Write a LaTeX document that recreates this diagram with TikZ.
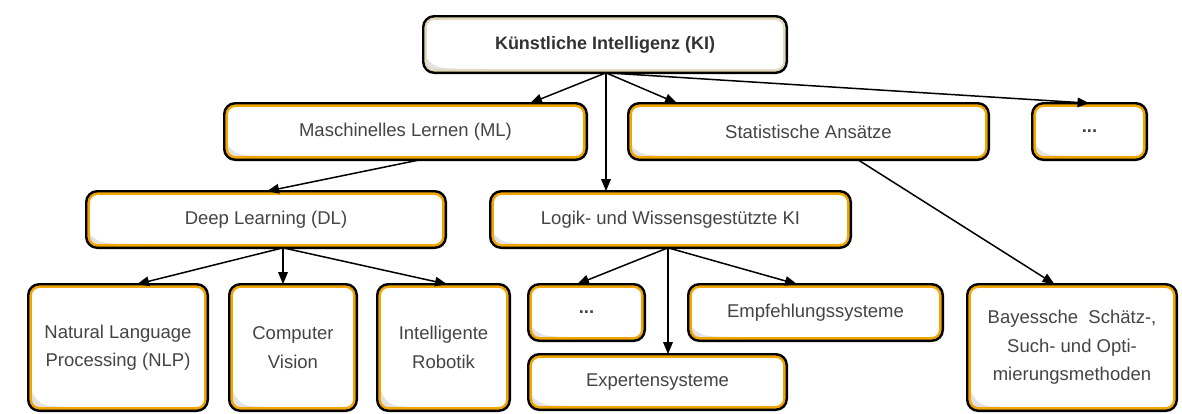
\documentclass[tikz,border=0pt]{standalone}
\usepackage{fontspec}
\setmainfont{Liberation Sans}
\usetikzlibrary{arrows.meta,calc}
\definecolor{ringor}{RGB}{240,165,0}
\definecolor{ringtop}{RGB}{228,216,190}
\definecolor{shgray}{RGB}{226,226,226}
\definecolor{txt}{RGB}{68,68,68}
\definecolor{txtb}{RGB}{51,51,51}
\newcommand\kshade[1]{%
  \fill[shgray] let \p1=(path picture bounding box.south west), \p2=(path picture bounding box.north east) in
    ({\x1-2pt}, {\y1+min(0.55*(\y2-\y1),46pt)}) .. controls ({\x1+4pt},{\y1+10pt}) and ({\x1+12pt},{\y1+5pt}) .. ({\x1+36pt},{\y1+4pt})
    -- (\x2,{\y1+1.5pt}) -- (\x2,{\y1-2pt}) -- ({\x1-2pt},{\y1-2pt}) -- cycle;
  \draw[#1, line width=7.5pt, rounded corners=11pt] (path picture bounding box.south west) rectangle (path picture bounding box.north east);}
\begin{document}
\begin{tikzpicture}[x=1pt,y=-1pt,
  kbox/.style={draw=black, line width=2.4pt, fill=white, rounded corners=11pt,
    inner sep=0pt, outer sep=0pt, anchor=north west, align=center, text=txt,
    font=\fontsize{18.5}{28.5}\selectfont, path picture={\kshade{ringor}}},
  kboxtop/.style={kbox, text=txtb, font=\fontsize{18}{28}\selectfont\bfseries, path picture={\kshade{ringtop}}},
  arr/.style={-{Triangle[length=12pt,width=9.5pt]}, line width=1.5pt, black}]
\useasboundingbox (0,0) rectangle (1182,413);
% nodes
\node[kboxtop, minimum width=363.6pt, minimum height=56.6pt] (ki) at (423.2,16.2) {Künstliche Intelligenz (KI)};
\node[kbox, minimum width=362.6pt, minimum height=56.6pt] (ml) at (224.2,103.2) {Maschinelles Lernen (ML)};
\node[kbox, minimum width=360.6pt, minimum height=56.6pt] (stat) at (628.2,103.2) {Statistische Ansätze};
\node[kbox, minimum width=114.6pt, minimum height=56.6pt] (dotsa) at (1032.2,103.2) {\textbf{...}};
\node[kbox, minimum width=359.6pt, minimum height=56.6pt] (dl) at (86.2,191.2) {Deep Learning (DL)};
\node[kbox, minimum width=360.6pt, minimum height=56.6pt] (logik) at (490.2,191.2) {Logik- und Wissensgestützte KI};
\node[kbox, minimum width=179.6pt, minimum height=126.6pt] (nlp) at (28.2,284.2) {Natural Language\\Processing (NLP)};
\node[kbox, minimum width=127.6pt, minimum height=126.6pt] (cv) at (229.2,284.2) {Computer\\Vision};
\node[kbox, minimum width=132.6pt, minimum height=126.6pt] (rob) at (377.2,284.2) {Intelligente\\Robotik};
\node[kbox, minimum width=116.6pt, minimum height=56.6pt] (dotsb) at (528.2,284.2) {\textbf{...}};
\node[kbox, minimum width=254.6pt, minimum height=56.6pt] (empf) at (688.2,284.2) {Empfehlungssysteme};
\node[kbox, minimum width=258.6pt, minimum height=55.6pt] (expert) at (528.2,354.2) {Expertensysteme};
\node[kbox, minimum width=209.6pt, minimum height=126.6pt] (bayes) at (967.2,284.2) {Bayessche\ \ Schätz-,\\Such- und Opti-\\mierungsmethoden};
% connectors
\draw[arr] ([xshift=1pt]ki.south) -- ([xshift=124.5pt]ml.north);
\draw[arr] ([xshift=1pt]ki.south) -- ([xshift=-131.5pt]stat.north);
\draw[arr] ([xshift=1pt]ki.south) -- ([xshift=-64.5pt]logik.north);
\draw[arr] ([xshift=1pt]ki.south) -- (dotsa.north);
\draw[arr] ([xshift=14.5pt]ml.south) -- ([xshift=1pt]dl.north);
\draw[arr] ([xshift=49.5pt]stat.south) -- ([xshift=-17.5pt]bayes.north);
\draw[arr] ([xshift=17pt]dl.south) -- ([xshift=19pt]nlp.north);
\draw[arr] ([xshift=17pt]dl.south) -- ([xshift=-10pt]cv.north);
\draw[arr] ([xshift=17pt]dl.south) -- ([xshift=3.5pt]rob.north);
\draw[arr] ([xshift=-2.5pt]logik.south) -- ([xshift=-9.5pt]dotsb.north);
\draw[arr] ([xshift=-2.5pt]logik.south) -- ([xshift=10.5pt]expert.north);
\draw[arr] ([xshift=-2.5pt]logik.south) -- ([xshift=-18.5pt]empf.north);
\end{tikzpicture}
\end{document}
